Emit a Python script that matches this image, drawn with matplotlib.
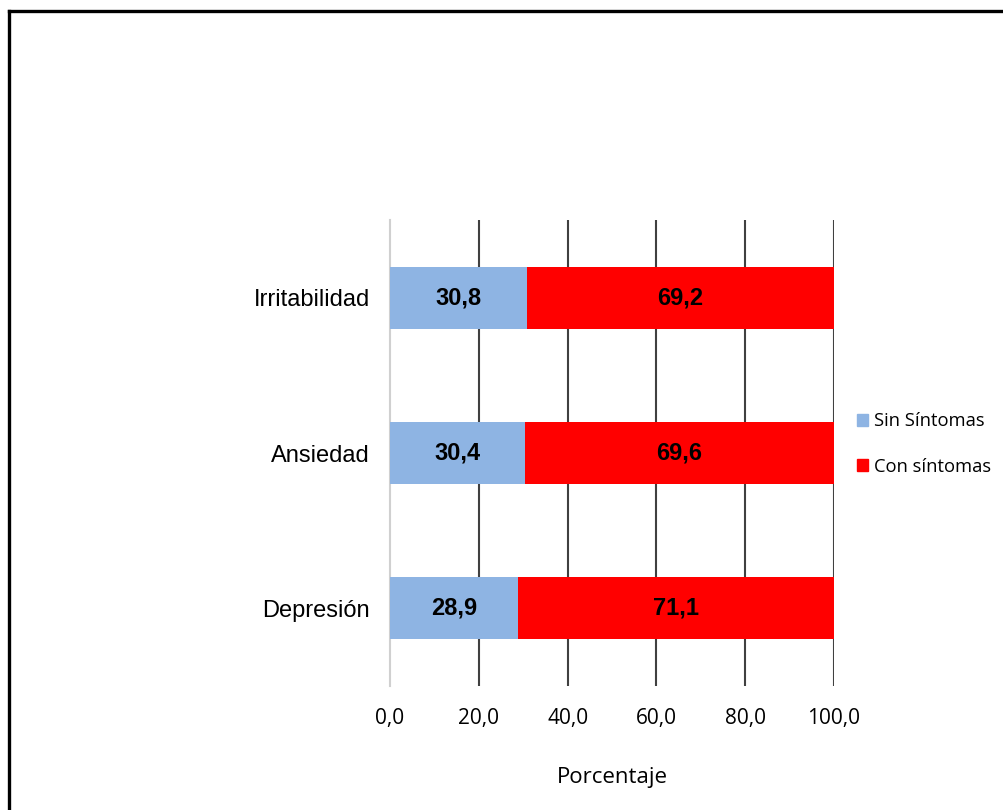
import matplotlib
matplotlib.use("Agg")
import matplotlib.pyplot as plt
from matplotlib import font_manager
from matplotlib.patches import Rectangle
from matplotlib.lines import Line2D

categories = ["Depresión", "Ansiedad", "Irritabilidad"]
sin_sintomas = [28.9, 30.4, 30.8]
con_sintomas = [71.1, 69.6, 69.2]
series_names = ["Sin Síntomas", "Con síntomas"]
xticks = [0, 20, 40, 60, 80, 100]
xlabel = "Porcentaje"

blue = "#8EB4E3"
red = "#FF0000"

# regular-width bold sans for the value labels
bold_file = None
for f in font_manager.findSystemFonts():
    if f.endswith("LiberationSans-Bold.ttf"):
        bold_file = f
        break
if bold_file:
    bold_prop = font_manager.FontProperties(fname=bold_file, size=17)
else:
    bold_prop = font_manager.FontProperties(family="DejaVu Sans", weight="bold", size=15)

W, H = 1004, 810
fig = plt.figure(figsize=(W / 100, H / 100), dpi=100)
fig.patch.set_facecolor("white")

ax = fig.add_axes([390 / W, 1 - 686 / H, 444 / W, 466 / H])

ypos = list(range(len(categories)))
ax.barh(ypos, sin_sintomas, height=0.4, color=blue, zorder=3)
ax.barh(ypos, con_sintomas, left=sin_sintomas, height=0.4, color=red, zorder=3)

fmt = lambda v: f"{v:.1f}".replace(".", ",")
for y, a, b in zip(ypos, sin_sintomas, con_sintomas):
    ax.text(a / 2, y, fmt(a), ha="center", va="center",
            fontproperties=bold_prop, zorder=4)
    ax.text(a + b / 2, y, fmt(b), ha="center", va="center",
            fontproperties=bold_prop, zorder=4)

ax.set_xlim(0, 100)
ax.set_ylim(-0.5, len(categories) - 0.5)
ax.set_xticks(xticks)
ax.set_xticklabels([fmt(v) for v in xticks], family="Open Sans", fontsize=15)
ax.set_yticks(ypos)
ax.set_yticklabels(categories, family="Liberation Sans", fontsize=17)
ax.tick_params(axis="x", length=0, pad=16)
ax.tick_params(axis="y", length=0, pad=14.5)

for v in xticks[1:]:
    ax.axvline(v, color="#404040", lw=1.5, zorder=1)
for s in ["top", "right", "bottom"]:
    ax.spines[s].set_visible(False)
ax.spines["left"].set_color("#d0d0d0")
ax.spines["left"].set_linewidth(1.5)

ax.set_xlabel(xlabel, family="Open Sans", fontsize=16, labelpad=27)

# legend on the right
handles = [Rectangle((0, 0), 1, 1, color=blue), Rectangle((0, 0), 1, 1, color=red)]
fig.legend(handles, series_names, loc="center left",
           bbox_to_anchor=(841 / W, 1 - 444 / H), frameon=False,
           prop={"family": "Open Sans", "size": 13.2},
           handlelength=0.6, handleheight=0.6, handletextpad=0.3,
           labelspacing=1.5)

# outer frame
fig.add_artist(Line2D([9 / W, 9 / W], [0, 1 - 11 / H], color="black", lw=2.4,
                      transform=fig.transFigure))
fig.add_artist(Line2D([9 / W, 1], [1 - 11 / H, 1 - 11 / H], color="black", lw=2.4,
                      transform=fig.transFigure))

fig.savefig("out.png", dpi=100)
